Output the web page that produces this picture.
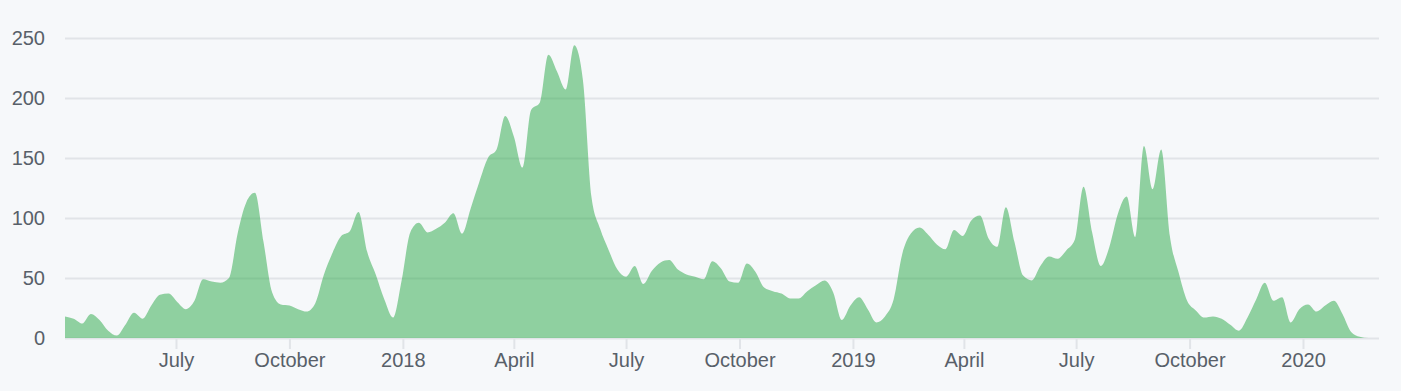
<!DOCTYPE html>
<html>
<head>
<meta charset="utf-8">
<script src="https://cdn.jsdelivr.net/npm/d3@7"></script>
<style>
  body { margin: 0; background: #f6f8fa; }
  svg { display: block; }
</style>
</head>
<body>
<div id="chart"></div>
<script>
// Weekly commit counts (weeks start on Sunday)
// ================================
var firstWeek = "2017-04-02";
var lastWeek = "2020-03-01";

var commits2017 = [18, 16, 12, 20, 15, 6, 2, 11, 21, 16, 27, 36, 37, 30, 24, 31, 49, 47, 46, 50,
  87, 113, 121, 80, 38, 28, 27, 24, 22, 29, 53, 71, 85, 89, 105, 72, 53, 32, 17, 48];
var commits2018 = [88, 96, 88, 91, 96, 104, 87, 108, 130, 150, 157, 185, 168, 142, 190, 196, 236, 222,
  207, 244, 215, 117, 91, 73, 57, 51, 60, 45, 56, 63, 65, 57, 53, 51, 49, 64, 58,
  47, 46, 62, 55, 42, 39, 37, 33, 33, 39, 44, 48, 38, 15, 27];
var commits2019 = [34, 24, 13, 18, 32, 70, 87, 92, 86, 78, 74, 90, 85, 98, 102, 83, 76, 109, 80, 52,
  48, 60, 68, 66, 73, 82, 126, 88, 60, 76, 104, 118, 84, 160, 124, 157, 85, 55, 31, 23,
  17, 18, 16, 11, 6, 17, 32, 46, 31, 34, 13, 24];
var commits2020 = [28, 22, 27, 31, 20, 5, 1, 0, 0];

var yTicks = [0, 50, 100, 150, 200, 250];
var xTickDates = ["2017-07-01", "2017-10-01", "2018-01-01", "2018-04-01", "2018-07-01",
  "2018-10-01", "2019-01-01", "2019-04-01", "2019-07-01", "2019-10-01", "2020-01-01"];
var xTickLabels = ["July", "October", "2018", "April", "July",
  "October", "2019", "April", "July", "October", "2020"];

// Set up our chart
// ================================
var svgWidth = 1401;
var svgHeight = 391;

var plotLeft = 65;
var plotRight = 1379;
var plotTop = 38;
var plotBottom = 338;

var svg = d3
  .select("#chart")
  .append("svg")
  .attr("width", svgWidth)
  .attr("height", svgHeight);

var parseDate = d3.utcParse("%Y-%m-%d");

var counts = commits2017.concat(commits2018, commits2019, commits2020);
var start = parseDate(firstWeek);
var weekData = counts.map(function (c, i) {
  return { date: d3.utcDay.offset(start, i * 7), value: c };
});

var xScale = d3
  .scaleUtc()
  .domain([start, parseDate(lastWeek)])
  .range([plotLeft, 1377]);

var yScale = d3
  .scaleLinear()
  .domain([0, 250])
  .range([plotBottom, plotTop]);

// y axis with gridlines
var leftAxis = d3
  .axisLeft(yScale)
  .tickValues(yTicks)
  .tickSize(-(plotRight - plotLeft))
  .tickPadding(20);

var yAxis = svg
  .append("g")
  .attr("transform", `translate(${plotLeft}, 0)`)
  .call(leftAxis);

yAxis.select(".domain").remove();
yAxis.selectAll("line").attr("stroke", "#e1e4e8").attr("stroke-width", 2);

// x axis
var bottomAxis = d3
  .axisBottom(xScale)
  .tickValues(xTickDates.map(parseDate))
  .tickFormat((d, i) => xTickLabels[i])
  .tickSize(11)
  .tickPadding(4);

var xAxis = svg
  .append("g")
  .attr("transform", `translate(0, ${plotBottom})`)
  .call(bottomAxis);

xAxis.select(".domain").remove();
xAxis.selectAll("line").attr("stroke", "#e1e4e8").attr("stroke-width", 2);

svg
  .selectAll(".tick text")
  .attr("fill", "#586069")
  .style("font-family", "'Liberation Sans', Arial, sans-serif")
  .style("font-size", "20px");

// the area
var area = d3
  .area()
  .x((d) => xScale(d.date))
  .y0(yScale(0))
  .y1((d) => yScale(d.value))
  .curve(d3.curveMonotoneX);

svg
  .append("path")
  .datum(weekData)
  .attr("d", area)
  .attr("fill", "#28a745")
  .attr("fill-opacity", 0.5);
</script>
</body>
</html>
